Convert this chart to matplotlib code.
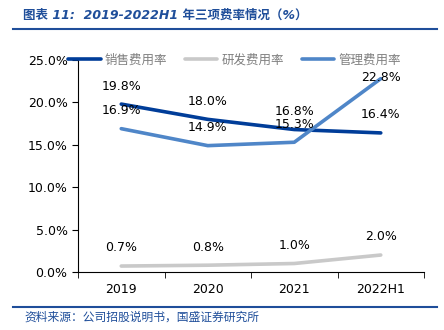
import matplotlib
matplotlib.use("Agg")
import matplotlib.pyplot as plt

plt.rcParams['font.family'] = ['DejaVu Sans', 'Noto Sans CJK SC']

years = ["2019", "2020", "2021", "2022H1"]
sales = [19.8, 18.0, 16.8, 16.4]
rnd = [0.7, 0.8, 1.0, 2.0]
admin = [16.9, 14.9, 15.3, 22.8]

c_sales = "#003d99"
c_rnd = "#c9c9c9"
c_admin = "#4f86c8"
c_title = "#1f4e9a"

fig = plt.figure(figsize=(4.44, 3.30), dpi=100)
ax = fig.add_axes([0.1757, 0.1758, 0.7793, 0.6424])

x = range(len(years))
ax.plot(x, sales, color=c_sales, lw=2.6, label="销售费用率", solid_capstyle="round")
ax.plot(x, rnd, color=c_rnd, lw=2.6, label="研发费用率", solid_capstyle="round")
ax.plot(x, admin, color=c_admin, lw=2.6, label="管理费用率", solid_capstyle="round")

# data labels
for i, v in enumerate(sales):
    ax.annotate(f"{v:.1f}%", (i, v), xytext=(0, 13), textcoords="offset points",
                ha="center", va="center", fontsize=9)
for i, v in enumerate(rnd):
    ax.annotate(f"{v:.1f}%", (i, v), xytext=(0, 13), textcoords="offset points",
                ha="center", va="center", fontsize=9)
for i, v in enumerate(admin):
    dy = 13 if i < 3 else 1
    ax.annotate(f"{v:.1f}%", (i, v), xytext=(0, dy), textcoords="offset points",
                ha="center", va="center", fontsize=9)

ax.set_xlim(-0.5, 3.5)
ax.set_ylim(0, 25)
ax.set_yticks([0, 5, 10, 15, 20, 25])
ax.set_yticklabels([f"{t:.1f}%" for t in [0, 5, 10, 15, 20, 25]], fontsize=9)
ax.set_xticks(list(x))
ax.set_xticklabels(years, fontsize=9)
ax.set_xticks([-0.5, 0.5, 1.5, 2.5, 3.5], minor=True)
ax.tick_params(axis="x", which="major", length=0, pad=8)
ax.tick_params(axis="x", which="minor", length=4, direction="out")
ax.tick_params(axis="y", length=4, direction="out")
for s in ["top", "right"]:
    ax.spines[s].set_visible(False)

leg = fig.legend(loc="center left", bbox_to_anchor=(68 / 444, 1 - 60 / 330), ncol=3,
                 frameon=False, fontsize=9, handlelength=2.6, columnspacing=1.4,
                 handletextpad=0.35, borderpad=0, borderaxespad=0)
for t in leg.get_texts():
    t.set_color("#808080")

# title and source
fig.text(0.052, 0.955, "图表 11:  2019-2022H1 年三项费率情况（%）", color=c_title,
         fontsize=9, style="italic", weight="semibold", va="center")
fig.add_artist(plt.Line2D([0.03, 0.985], [0.912, 0.912], color=c_title, lw=1.5))
fig.add_artist(plt.Line2D([0.03, 0.985], [0.07, 0.07], color=c_title, lw=1.5))
fig.text(0.055, 0.04, "资料来源：公司招股说明书，国盛证券研究所", color=c_title,
         fontsize=8.5, style="italic", va="center")

fig.savefig("out.png", dpi=100)
